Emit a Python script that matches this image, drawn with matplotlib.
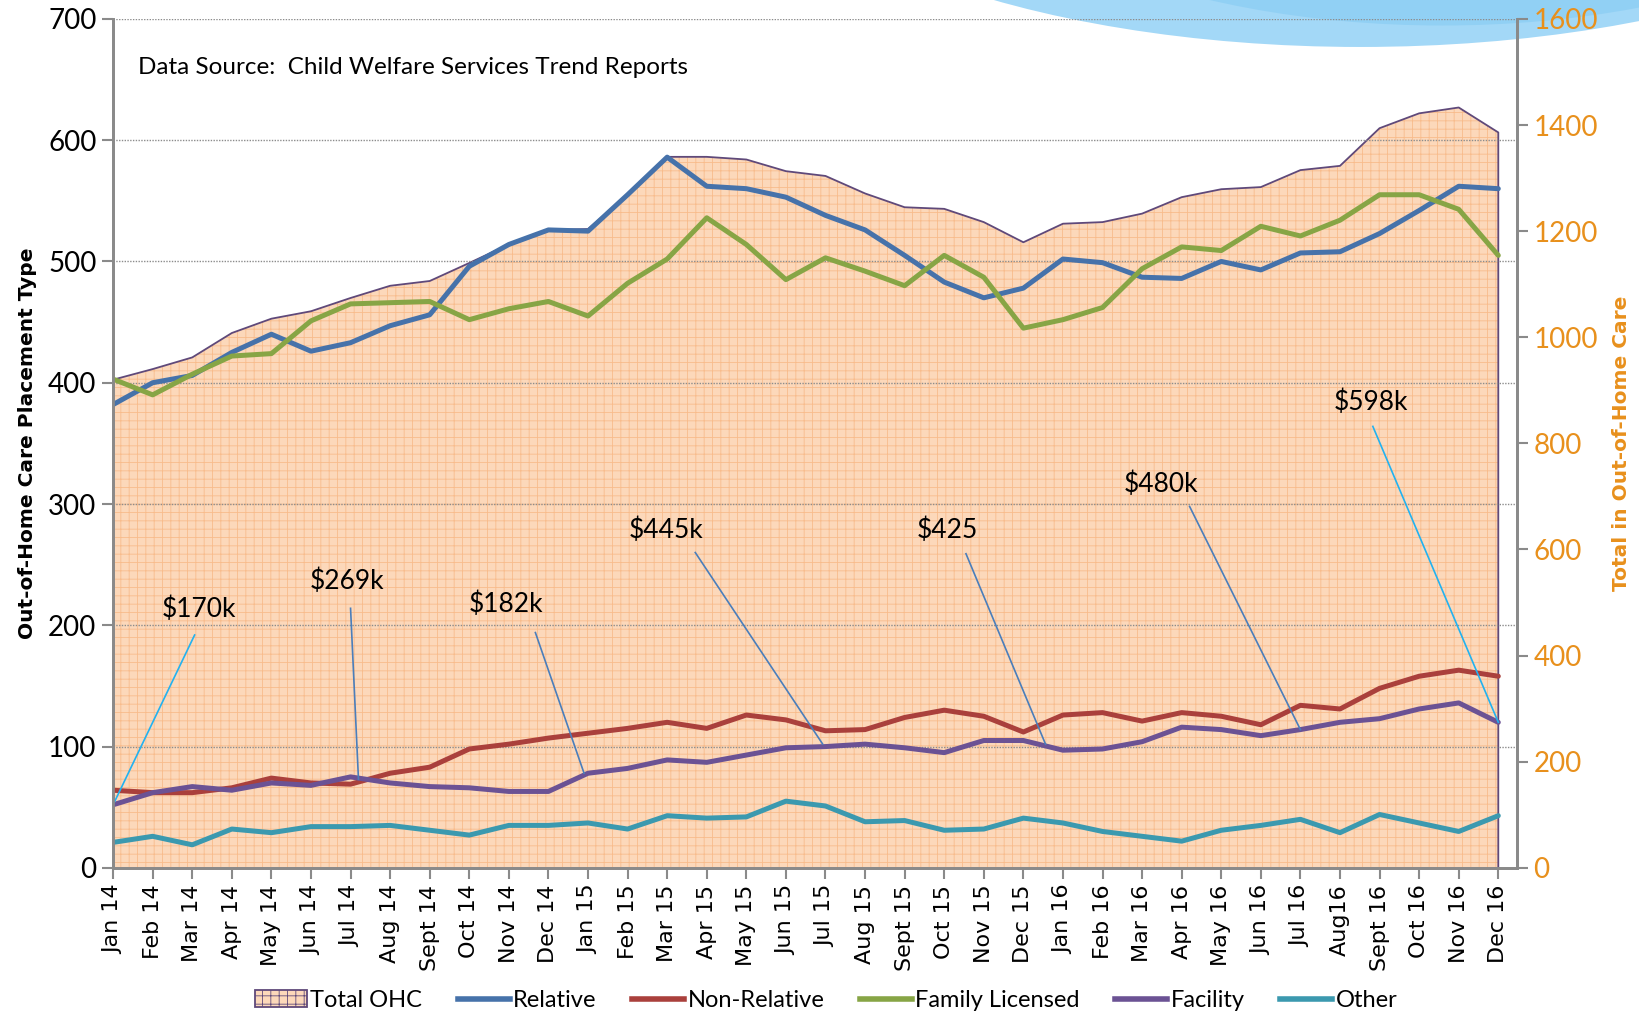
import matplotlib
matplotlib.use("Agg")
import matplotlib.pyplot as plt
from matplotlib.patches import Ellipse, Patch
from matplotlib.lines import Line2D

plt.rcParams['hatch.linewidth'] = 0.6
NARROW = ['Lato', 'DejaVu Sans']

months = ["Jan 14", "Feb 14", "Mar 14", "Apr 14", "May 14", "Jun 14", "Jul 14", "Aug 14",
          "Sept 14", "Oct 14", "Nov 14", "Dec 14", "Jan 15", "Feb 15", "Mar 15", "Apr 15",
          "May 15", "Jun 15", "Jul 15", "Aug 15", "Sept 15", "Oct 15", "Nov 15", "Dec 15",
          "Jan 16", "Feb 16", "Mar 16", "Apr 16", "May 16", "Jun 16", "Jul 16", "Aug16",
          "Sept 16", "Oct 16", "Nov 16", "Dec 16"]

total_ohc = [920, 940, 962, 1008, 1035, 1049, 1074, 1097, 1106, 1140, 1175, 1202,
             1204, 1268, 1340, 1340, 1335, 1313, 1304, 1271, 1245, 1242, 1217, 1179,
             1214, 1217, 1233, 1264, 1279, 1283, 1315, 1323, 1394, 1422, 1433, 1386]
relative = [382, 400, 406, 425, 440, 426, 433, 447, 456, 496, 514, 526,
            525, 555, 586, 562, 560, 553, 538, 526, 505, 483, 470, 478,
            502, 499, 487, 486, 500, 493, 507, 508, 523, 542, 562, 560]
non_relative = [64, 62, 62, 66, 74, 70, 69, 78, 83, 98, 102, 107,
                111, 115, 120, 115, 126, 122, 113, 114, 124, 130, 125, 112,
                126, 128, 121, 128, 125, 118, 134, 131, 148, 158, 163, 158]
family_licensed = [403, 390, 407, 422, 424, 451, 465, 466, 467, 452, 461, 467,
                   455, 482, 502, 536, 514, 485, 503, 492, 480, 505, 487, 445,
                   452, 462, 494, 512, 509, 529, 521, 534, 555, 555, 543, 505]
facility = [52, 62, 67, 64, 70, 68, 75, 70, 67, 66, 63, 63,
            78, 82, 89, 87, 93, 99, 100, 102, 99, 95, 105, 105,
            97, 98, 104, 116, 114, 109, 114, 120, 123, 131, 136, 120]
other = [21, 26, 19, 32, 29, 34, 34, 35, 31, 27, 35, 35,
         37, 32, 43, 41, 42, 55, 51, 38, 39, 31, 32, 41,
         37, 30, 26, 22, 31, 35, 40, 29, 44, 37, 30, 43]

# annotation labels: (text, text x, text y, line start, line end) in left-axis units
notes = [("$170k", 2.17, 213, (2.06, 192), (0.0, 52), '#22B2F0'),
         ("$269k", 5.9, 236, (6.0, 214), (6.2, 73), '#4A7EBB'),
         ("$182k", 9.93, 217, (10.67, 194), (11.9, 78), '#4A7EBB'),
         ("$445k", 13.97, 278, (14.71, 260), (17.93, 102), '#4A7EBB'),
         ("$425", 21.08, 278, (21.55, 259), (23.56, 102), '#4A7EBB'),
         ("$480k", 26.49, 316, (27.2, 298), (30.0, 114), '#4A7EBB'),
         ("$598k", 31.77, 384, (31.83, 364), (35.0, 120), '#22B2F0')]

x = list(range(len(months)))

fig = plt.figure(figsize=(16.39, 10.21), dpi=100)
ax1 = fig.add_axes([0.069, 0.150, 0.8565, 0.8315])
ax2 = ax1.twinx()
ax1.set_zorder(ax2.get_zorder() + 1)
ax1.patch.set_visible(False)
ax2.patch.set_visible(False)

# decorative swoosh top right
sw = Ellipse((0.83, 1.194), 0.76, 0.48, transform=fig.transFigure,
             facecolor='#A3D8F7', edgecolor='none', zorder=-5)
fig.patches.append(sw)
sw2 = Ellipse((0.88, 1.20), 0.62, 0.45, transform=fig.transFigure,
              facecolor='#86CBF3', edgecolor='none', alpha=0.6, zorder=-4)
fig.patches.append(sw2)

# Total OHC area on right axis
ax2.fill_between(x, total_ohc, 0, facecolor='#FCD8BA', edgecolor='#F8BC8C',
                 hatch='++', linewidth=0)
ax2.plot(x + [x[-1]], total_ohc + [0], color='#5F497A', lw=1.3)
ax2.set_ylim(0, 1600)
ax2.set_yticks(range(0, 1601, 200))

series = [(relative, '#4672AA', "Relative"),
          (non_relative, '#AA403C', "Non-Relative"),
          (family_licensed, '#87A545', "Family Licensed"),
          (facility, '#6B5294', "Facility"),
          (other, '#3B99AF', "Other")]
for vals, col, name in series:
    ax1.plot(x, vals, color=col, lw=3.6, solid_capstyle='round', solid_joinstyle='round')

for txt, tx, ty, p0, p1, col in notes:
    ax1.plot([p0[0], p1[0]], [p0[1], p1[1]], color=col, lw=1.2)
    ax1.text(tx, ty, txt, ha='center', va='center', fontsize=19, family=NARROW)

ax1.text(0.63, 660, "Data Source:  Child Welfare Services Trend Reports",
         fontsize=17.5, family=NARROW, va='center')

ax1.set_xlim(0, 35.47)
ax1.set_ylim(0, 700)
ax1.set_yticks(range(0, 701, 100))
ax1.set_xticks(x)
ax1.set_xticklabels(months, rotation=90, fontsize=16)
ax1.yaxis.grid(True, color='#8C8C8C', linestyle=(0, (1, 1)), lw=1.0)
ax1.set_axisbelow(True)

for a in (ax1, ax2):
    for s in a.spines.values():
        s.set_color('#8A8A8A')
        s.set_linewidth(2)
    a.spines['top'].set_visible(False)
ax1.tick_params(axis='y', labelsize=20, length=8, width=1.5, color='#8A8A8A', pad=4)
ax1.tick_params(axis='x', length=8, width=1.5, color='#8A8A8A', pad=4)
ax2.tick_params(axis='y', labelsize=20, length=8, width=1.5, color='#8A8A8A',
                labelcolor='#E8901C', pad=4)
for lab in ax1.get_yticklabels() + ax2.get_yticklabels():
    lab.set_family(NARROW)

ax1.set_ylabel("Out-of-Home Care Placement Type", fontsize=14.5, fontweight='bold', labelpad=8)
ax2.set_ylabel("Total in Out-of-Home Care", fontsize=14.5, fontweight='bold',
               color='#E8901C', labelpad=10)

handles = [Patch(facecolor='#FCD8BA', edgecolor='#5F497A', hatch='++', lw=1.3)]
labels = ["Total OHC"]
for vals, col, name in series:
    handles.append(Line2D([], [], color=col, lw=4))
    labels.append(name)
fig.legend(handles, labels, loc='lower center', bbox_to_anchor=(0.504, -0.011), ncol=6,
           frameon=False, prop={'family': NARROW, 'size': 17}, handlelength=2.2,
           handletextpad=0.15, columnspacing=1.5)

fig.savefig("out.png", dpi=100)
